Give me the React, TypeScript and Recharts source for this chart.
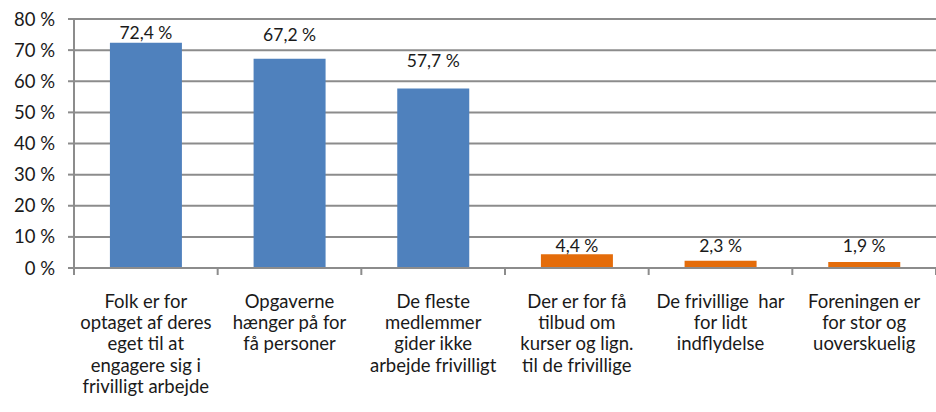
import React from "react";
import { BarChart, Bar, XAxis, YAxis, CartesianGrid, Cell, LabelList } from "recharts";

const categories: string[][] = [
  ["Folk er for", "optaget af deres", "eget til at", "engagere sig i", "frivilligt arbejde"],
  ["Opgaverne", "hænger på for", "få personer"],
  ["De fleste", "medlemmer", "gider ikke", "arbejde frivilligt"],
  ["Der er for få", "tilbud om", "kurser og lign.", "til de frivillige"],
  ["De frivillige  har", "for lidt", "indflydelse"],
  ["Foreningen er", "for stor og", "uoverskuelig"],
];
const values: number[] = [72.4, 67.2, 57.7, 4.4, 2.3, 1.9];
const colors: string[] = ["#4F81BD", "#4F81BD", "#4F81BD", "#E46C0A", "#E46C0A", "#E46C0A"];
const yTicks: number[] = [0, 10, 20, 30, 40, 50, 60, 70, 80];

// gap (px) between the label baseline and the bar top, as placed in the reference
const LABEL_GAPS: number[] = [4, 18, 21, 2, 9, 10];

const data = values.map((v, i) => ({ name: String(i), value: v }));

const FONT = "Lato, 'Open Sans', sans-serif";
const GRID = "#8C8C8C";
const TEXT = "#1a1a1a";

const fmt = (v: number) => `${v.toFixed(1).replace(".", ",")} %`;

const XTick = (props: any) => {
  const { x, y, payload, width, visibleTicksCount } = props;
  const band = width / (visibleTicksCount || 6);
  const idx = Number(payload.value);
  const lines = categories[idx] || [];
  return (
    <g>
      <line x1={x - band / 2} x2={x - band / 2} y1={y - 8} y2={y - 1} stroke={GRID} strokeWidth={2} />
      {idx === categories.length - 1 && (
        <line x1={x + band / 2} x2={x + band / 2} y1={y - 8} y2={y - 1} stroke={GRID} strokeWidth={2} />
      )}
      <text x={x} y={y + 32} textAnchor="middle" fontFamily={FONT} fontSize={18.5} fill={TEXT}>
        {lines.map((l, i) => (
          <tspan key={i} x={x} dy={i === 0 ? 0 : 21.2} style={{ whiteSpace: "pre" }}>
            {l}
          </tspan>
        ))}
      </text>
    </g>
  );
};

const BarLabel = (props: any) => {
  const { x, y, width, value, index } = props;
  const gap = LABEL_GAPS[index] ?? 4;
  return (
    <text x={x + width / 2} y={y - gap} textAnchor="middle" fontFamily={FONT} fontSize={17.5} fill={TEXT}>
      {fmt(Number(value))}
    </text>
  );
};

export default function App() {
  return (
    <div style={{ position: "absolute", left: 0, top: 0, width: 936, height: 412, background: "#fff" }}>
      <BarChart
        width={936}
        height={412}
        data={data}
        margin={{ top: 19, right: 0, bottom: 0, left: 0 }}
        barCategoryGap="25%"
      >
        <CartesianGrid vertical={false} stroke={GRID} strokeWidth={2} />
        <XAxis
          dataKey="name"
          axisLine={{ stroke: GRID, strokeWidth: 2 }}
          tickLine={false}
          height={144}
          interval={0}
          tick={<XTick />}
        />
        <YAxis
          width={74}
          domain={[0, 80]}
          ticks={yTicks}
          interval={0}
          axisLine={{ stroke: GRID, strokeWidth: 2 }}
          tickLine={{ stroke: GRID, strokeWidth: 2 }}
          tickSize={6}
          tickMargin={13}
          tickFormatter={(v: number) => `${v} %`}
          tick={{ fontFamily: FONT, fontSize: 18.5, fill: TEXT }}
        />
        <Bar dataKey="value" isAnimationActive={false}>
          {data.map((d, i) => (
            <Cell key={i} fill={colors[i]} />
          ))}
          <LabelList dataKey="value" content={<BarLabel />} />
        </Bar>
      </BarChart>
    </div>
  );
}
